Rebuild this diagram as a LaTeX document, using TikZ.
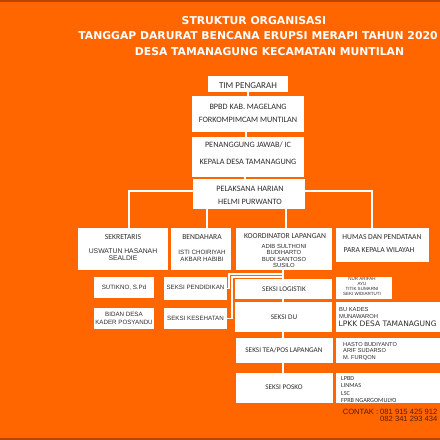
\documentclass[tikz,border=0pt]{standalone}
\usepackage{fontspec}
\newfontfamily\calf{Carlito}
\newfontfamily\arif{Liberation Sans}
\newfontfamily\djv{DejaVu Sans}
\usetikzlibrary{backgrounds}
\definecolor{bgc}{RGB}{255,102,0}
\definecolor{edgec}{RGB}{185,70,0}
\definecolor{txt}{RGB}{45,45,45}
\definecolor{cont}{RGB}{85,30,0}
\begin{document}
\begin{tikzpicture}[x=1pt,y=-1pt,
  box/.style={rectangle,fill=white,inner sep=0pt,outer sep=0pt},
  link/.style={draw=white,line width=1.4pt},
  ttl/.style={font=\djv\bfseries\fontsize{10.8}{12}\selectfont,text=white,inner sep=0pt},
  calbig/.style={font=\calf\fontsize{8.2}{9}\selectfont,text=txt,inner sep=0pt,align=center},
  calmid/.style={font=\calf\fontsize{7.6}{8}\selectfont,text=txt,inner sep=0pt,align=center},
  calsm/.style={font=\calf\fontsize{7.2}{7.6}\selectfont,text=txt,inner sep=0pt,align=center},
  arltxt/.style={font=\arif\fontsize{6.2}{6.8}\selectfont,text=txt,inner sep=0pt,align=center},
  tinyt/.style={font=\arif\fontsize{4.5}{5}\selectfont,text=txt,inner sep=0pt,align=center},
]
\useasboundingbox (0,0) rectangle (440,440);
\begin{scope}[on background layer]
  \fill[bgc] (0,0) rectangle (440,440);
  \fill[edgec] (0,0) rectangle (440,1.5);
  \fill[edgec] (0,437.5) rectangle (440,440);
\end{scope}

% title
\node[ttl] (h1) at (254,20.5) {STRUKTUR ORGANISASI};
\node[ttl] (h2) at (258,36) {TANGGAP DARURAT BENCANA ERUPSI MERAPI TAHUN 2020};
\node[ttl] (h3) at (269.5,51.5) {DESA TAMANAGUNG KECAMATAN MUNTILAN};

% boxes
\node[box,minimum width=80pt,minimum height=16pt] (tim) at (248,84) {};
\node[box,minimum width=112pt,minimum height=36pt] (bpbd) at (248,114) {};
\node[box,minimum width=112pt,minimum height=40pt] (pj) at (248,157) {};
\node[box,minimum width=112pt,minimum height=30pt] (ph) at (249,194) {};
\node[box,minimum width=90pt,minimum height=42pt] (sek) at (123,249) {};
\node[box,minimum width=60pt,minimum height=42pt] (ben) at (201,249) {};
\node[box,minimum width=96pt,minimum height=42pt] (kl) at (284,249) {};
\node[box,minimum width=93pt,minimum height=34pt] (hum) at (382.5,245) {};
\node[box,minimum width=60pt,minimum height=21pt] (sut) at (124,287.5) {};
\node[box,minimum width=60pt,minimum height=21pt] (bid) at (124,318.5) {};
\node[box,minimum width=63pt,minimum height=23pt] (pend) at (195.5,288.5) {};
\node[box,minimum width=63pt,minimum height=21pt] (kes) at (195.5,318.5) {};
\node[box,minimum width=97pt,minimum height=20pt] (log) at (283.5,289) {};
\node[box,minimum width=56pt,minimum height=22pt] (nur) at (364,288) {};
\node[box,minimum width=97pt,minimum height=30pt] (du) at (283.5,317) {};
\node[box,minimum width=108pt,minimum height=30pt] (bu) at (390,317) {};
\node[box,minimum width=97pt,minimum height=25pt] (tea) at (284.5,350.5) {};
\node[box,minimum width=108pt,minimum height=25pt] (hasto) at (390,350.5) {};
\node[box,minimum width=97pt,minimum height=30pt] (posko) at (284.5,388) {};
\node[box,minimum width=108pt,minimum height=30pt] (lpbd) at (390,388) {};

% connectors
\coordinate (j1) at (283,274);
\coordinate (j2) at (283,277);
\begin{scope}[on background layer]
  \draw[link] (tim.south) -- (bpbd.north);
  \draw[link] ([xshift=-2pt]bpbd.south) -- ([xshift=-2pt]pj.north);
  \draw[link] ([xshift=-3pt]pj.south) -- ([xshift=-4pt]ph.north);
  \draw[link] ([yshift=3pt]ph.west) -| ([xshift=6pt]sek.north);
  \draw[link] ([yshift=3pt]ph.east) -| ([xshift=-10.5pt]hum.north);
  \draw[link] ([xshift=-42pt]ph.south) -- ([xshift=-42pt]ph.south |- ben.north);
  \draw[link] ([xshift=37pt]ph.south) -- ([xshift=37pt]ph.south |- kl.north);
  \draw[link] ([xshift=-1pt]kl.south) -- ([xshift=-1pt]kl.south |- posko.north);
  \draw[link] (pend.east) -- ++(2,0) |- (j1);
  \draw[link] (kes.east) -- ++(5,0) |- (j2);
\end{scope}

% texts
\node[calbig,font=\calf\fontsize{9}{10}\selectfont] (tTim) at (248,86) {TIM PENGARAH};
\node[calbig] (tB1) at (248,107) {BPBD KAB. MAGELANG};
\node[calbig] (tB2) at (248,120) {FORKOMPIMCAM MUNTILAN};
\node[calbig] (tP1) at (248,145) {PENANGGUNG JAWAB/ IC};
\node[calbig] (tP2) at (248,162) {KEPALA DESA TAMANAGUNG};
\node[calbig] (tH1) at (250,189) {PELAKSANA HARIAN};
\node[calbig] (tH2) at (250,202) {HELMI PURWANTO};
\node[calmid] (tS1) at (123,237) {SEKRETARIS};
\node[arltxt,font=\arif\fontsize{6.8}{7}\selectfont] (tS2) at (123,254.5) {USWATUN HASANAH\\SEALDIE};
\node[calmid] (tBe1) at (202,237) {BENDAHARA};
\node[arltxt] (tBe2) at (202,255.5) {ISTI CHOIRIYAH\\AKBAR HABIBI};
\node[calmid] (tK1) at (285,236) {KOORDINATOR LAPANGAN};
\node[arltxt,font=\arif\fontsize{5.9}{6.6}\selectfont] (tK2) at (284,256) {ADIB SULTHONI\\BUDIHARTO\\BUDI SANTOSO\\SUSILO};
\node[calmid] (tHu1) at (382,237) {HUMAS DAN PENDATAAN};
\node[calmid] (tHu2) at (379,250) {PARA KEPALA WILAYAH};
\node[arltxt] (tSu) at (124,287.5) {SUTIKNO, S.Pd};
\node[arltxt,font=\arif\fontsize{6.2}{8}\selectfont] (tBi) at (124,318) {BIDAN DESA\\KADER POSYANDU};
\node[arltxt] (tPe) at (195.5,287.5) {SEKSI PENDIDIKAN};
\node[arltxt] (tKe) at (195.5,318) {SEKSI KESEHATAN};
\node[calsm] (tLo) at (284,289) {SEKSI LOGISTIK};
\node[tinyt] (tNu) at (362,286.5) {NUR ARIFAH\\AYU\\TITIK SUMARNI\\SEKI WIDIARTUTI};
\node[calsm] (tDu) at (284,317) {SEKSI DU};
\node[arltxt,anchor=west,align=left,font=\arif\fontsize{5.8}{7}\selectfont] (tBu) at (339,312.5) {BU KADES\\MUNAWAROH};
\node[font=\djv\fontsize{7.5}{9}\selectfont,text=txt,inner sep=0pt,anchor=west] (tLp) at (338.5,324) {LPKK DESA TAMANAGUNG};
\node[calsm] (tTe) at (284,350) {SEKSI TEA/POS LAPANGAN};
\node[arltxt,anchor=west,align=left,font=\arif\fontsize{5.7}{6.6}\selectfont] (tHa) at (343,351.5) {HASTO BUDIYANTO\\ARIF SUDARSO\\M. FURQON};
\node[calsm] (tPo) at (284,387) {SEKSI POSKO};
\node[calsm,anchor=west,align=left,font=\calf\fontsize{6.2}{7.6}\selectfont] (tLs) at (341,389.5) {LPBD\\LINMAS\\LSC\\FPRB NGARGOMULYO};
\node[anchor=east,align=right,inner sep=0pt,text=cont,font=\arif\fontsize{7.6}{7.3}\selectfont] (tCo) at (437.5,415.5) {CONTAK : 081 915 425 912\\082 341 293 434};
\end{tikzpicture}
\end{document}
